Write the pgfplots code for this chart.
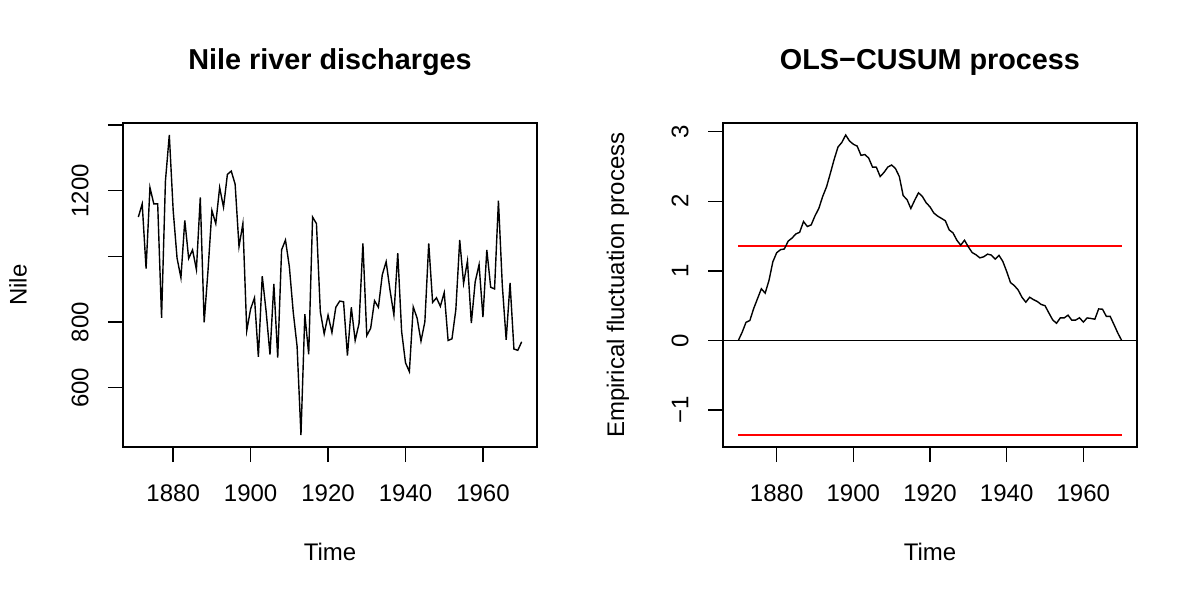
\documentclass[border=0pt]{standalone}
\usepackage{fontspec}
\setmainfont{Liberation Sans}
\usepackage{pgfplots}
\pgfplotsset{compat=1.18}

% Annual flow of the Nile at Aswan, 1871--1970
\pgfplotstableread{
year flow
1871 1120
1872 1160
1873 963
1874 1210
1875 1160
1876 1160
1877 813
1878 1230
1879 1370
1880 1140
1881 995
1882 935
1883 1110
1884 994
1885 1020
1886 960
1887 1180
1888 799
1889 958
1890 1140
1891 1100
1892 1210
1893 1150
1894 1250
1895 1260
1896 1220
1897 1030
1898 1100
1899 774
1900 840
1901 874
1902 694
1903 940
1904 833
1905 701
1906 916
1907 692
1908 1020
1909 1050
1910 969
1911 831
1912 726
1913 456
1914 824
1915 702
1916 1120
1917 1100
1918 832
1919 764
1920 821
1921 768
1922 845
1923 864
1924 862
1925 698
1926 845
1927 744
1928 796
1929 1040
1930 759
1931 781
1932 865
1933 845
1934 944
1935 984
1936 897
1937 822
1938 1010
1939 771
1940 676
1941 649
1942 846
1943 812
1944 742
1945 801
1946 1040
1947 860
1948 874
1949 848
1950 890
1951 744
1952 749
1953 838
1954 1050
1955 918
1956 986
1957 797
1958 923
1959 975
1960 815
1961 1020
1962 906
1963 901
1964 1170
1965 912
1966 746
1967 919
1968 718
1969 714
1970 740
}\nile

% Scaled cumulative sums of OLS residuals
\pgfplotstableread{
t efp
1870 0
1871 0.11857
1872 0.26077
1873 0.28657
1874 0.45832
1875 0.60052
1876 0.74273
1877 0.67989
1878 0.86345
1879 1.12976
1880 1.26014
1881 1.30484
1882 1.31409
1883 1.42675
1884 1.47086
1885 1.53034
1886 1.55436
1887 1.70838
1888 1.63727
1889 1.66010
1890 1.79049
1891 1.89724
1892 2.06899
1893 2.20528
1894 2.40067
1895 2.60197
1896 2.77963
1897 2.84501
1898 2.95176
1899 2.86587
1900 2.81898
1901 2.79218
1902 2.65902
1903 2.67122
1904 2.62019
1905 2.49117
1906 2.48919
1907 2.35484
1908 2.41432
1909 2.49152
1910 2.52086
1911 2.46865
1912 2.35440
1913 2.08060
1914 2.02425
1915 1.89582
1916 2.01438
1917 2.12113
1918 2.06951
1919 1.97772
1920 1.91960
1921 1.83016
1922 1.78623
1923 1.75352
1924 1.71963
1925 1.58883
1926 1.54490
1927 1.44128
1928 1.36839
1929 1.43968
1930 1.34493
1931 1.26317
1932 1.23106
1933 1.18712
1934 1.20169
1935 1.23989
1936 1.22669
1937 1.16916
1938 1.22273
1939 1.13507
1940 0.99127
1941 0.83152
1942 0.78817
1943 0.72474
1944 0.61994
1945 0.55000
1946 0.62130
1947 0.58623
1948 0.55943
1949 0.51727
1950 0.49992
1951 0.39630
1952 0.29564
1953 0.24757
1954 0.32477
1955 0.32398
1956 0.36336
1957 0.29106
1958 0.29322
1959 0.32610
1960 0.26444
1961 0.32392
1962 0.31603
1963 0.30518
1964 0.45330
1965 0.44895
1966 0.34652
1967 0.34631
1968 0.22733
1969 0.10598
1970 0
}\cusum

\pgfplotsset{
  rpanel/.style={
    scale only axis,
    width=207bp, height=162bp,
    anchor=south west,
    axis line style={line width=0.7bp},
    tick align=outside,
    major tick length=7.5bp,
    xtick pos=bottom, ytick pos=left,
    tick style={black, line width=0.7bp},
    xtick={1880,1900,1920,1940,1960},
    xticklabels={1880,1900,1920,1940,1960},
    xticklabel style={anchor=center, yshift=-15.5bp},
    yticklabel style={anchor=center, xshift=-14bp, rotate=90},
    every axis x label/.style={at={(axis description cs:0.5,0)}, anchor=center, yshift=-52.4bp},
    every axis y label/.style={at={(axis description cs:0,0.5)}, anchor=center, xshift=-52.5bp, rotate=90},
    every axis title/.style={at={(axis description cs:0.5,1)}, anchor=center, yshift=30.5bp,
      font=\fontsize{14.4bp}{17bp}\selectfont\bfseries},
    every axis plot/.append style={line width=0.7bp},
  }
}

\begin{document}
\begin{tikzpicture}[font=\fontsize{12bp}{14bp}\selectfont]
\useasboundingbox (0,0) rectangle (600bp,300bp);

\begin{axis}[rpanel,
  at={(61.5bp,76.5bp)},
  xmin=1867.04, xmax=1973.96,
  ymin=419.44, ymax=1406.56,
  ytick={600,800,1000,1200,1400},
  yticklabels={600,800,,1200,},
  title={Nile river discharges},
  xlabel={Time}, ylabel={Nile}]
\addplot[black, no marks] table[x=year, y=flow] {\nile};
\end{axis}

\begin{axis}[rpanel,
  at={(361.5bp,76.5bp)},
  xmin=1866, xmax=1974,
  ymin=-1.53039, ymax=3.12415,
  ytick={-1,0,1,2,3},
  yticklabels={−1,0,1,2,3},
  title={OLS−CUSUM process},
  xlabel={Time}, ylabel={Empirical fluctuation process}]
\addplot[black, no marks] coordinates {(1866,0) (1974,0)};
\addplot[red, no marks] coordinates {(1870,1.358) (1970,1.358)};
\addplot[red, no marks] coordinates {(1870,-1.358) (1970,-1.358)};
\addplot[black, no marks] table[x=t, y=efp] {\cusum};
\end{axis}
\end{tikzpicture}
\end{document}
